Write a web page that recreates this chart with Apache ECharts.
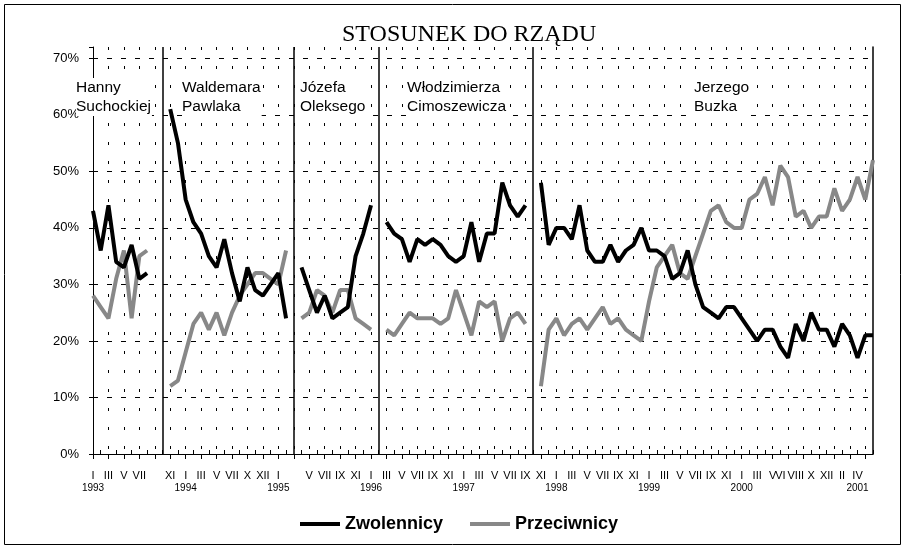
<!DOCTYPE html>
<html>
<head>
<meta charset="utf-8">
<title>Stosunek do rządu</title>
<script src="https://cdn.jsdelivr.net/npm/echarts@6/dist/echarts.min.js"></script>
<style>
  html, body { margin: 0; padding: 0; background: #fff; }
  #chart { width: 905px; height: 549px; }
</style>
</head>
<body>
<div id="chart"></div>
<script>
// miesiące od I 1993 do VI 2001 (indeks 0 = I 1993)
var monthCount = 102;

// podpisy osi X: indeks miesiąca -> numer rzymski / rok
var monthLabels = {
    0: 'I', 2: 'III', 4: 'V', 6: 'VII', 10: 'XI',
    12: 'I', 14: 'III', 16: 'V', 18: 'VII', 20: 'X', 22: 'XII',
    24: 'I', 28: 'V', 30: 'VII', 32: 'IX', 34: 'XI',
    36: 'I', 38: 'III', 40: 'V', 42: 'VII', 44: 'IX', 46: 'XI',
    48: 'I', 50: 'III', 52: 'V', 54: 'VII', 56: 'IX', 58: 'XI',
    60: 'I', 62: 'III', 64: 'V', 66: 'VII', 68: 'IX', 70: 'XI',
    72: 'I', 74: 'III', 76: 'V', 78: 'VII', 80: 'IX', 82: 'XI',
    84: 'I', 86: 'III', 88: 'V', 89: 'VI', 91: 'VIII', 93: 'X', 95: 'XII',
    97: 'II', 99: 'IV'
};
var yearLabels = {0: '1993', 12: '1994', 24: '1995', 36: '1996', 48: '1997', 60: '1998', 72: '1999', 84: '2000', 99: '2001'};

// granice między rządami (indeksy miesięcy)
var cabinetBreaks = [9, 26, 37, 57];

// podpisy rządów
var cabinetNames = ['Hanny\nSuchockiej', 'Waldemara\nPawlaka', 'Józefa\nOleksego', 'Włodzimierza\nCimoszewicza', 'Jerzego\nBuzka'];

// rząd Hanny Suchockiej (od I 1993)
var suchockaStart = 0;
var suchockaZw = [43, 36, 44, 34, 33, 37, 31, 32];
var suchockaPr = [28, 26, 24, 31, 36, 24, 35, 36];

// rząd Waldemara Pawlaka (od XI 1993)
var pawlakStart = 10;
var pawlakZw = [61, 55, 45, 41, 39, 35, 33, 38, 32, 27, 33, 29, 28, 30, 32, 24];
var pawlakPr = [12, 13, 18, 23, 25, 22, 25, 21, 25, 28, 30, 32, 32, 31, 30, 36];

// rząd Józefa Oleksego (od IV 1995)
var oleksyStart = 27;
var oleksyZw = [33, 29, 25, 28, 24, 25, 26, 35, 39, 44];
var oleksyPr = [24, 25, 29, 28, 25, 29, 29, 24, 23, 22];

// rząd Włodzimierza Cimoszewicza (od III 1996)
var cimoszewiczStart = 38;
var cimoszewiczZw = [41, 39, 38, 34, 38, 37, 38, 37, 35, 34, 35, 41, 34, 39, 39, 48, 44, 42, 44];
var cimoszewiczPr = [22, 21, 23, 25, 24, 24, 24, 23, 24, 29, 25, 21, 27, 26, 27, 20, 24, 25, 23];

// rząd Jerzego Buzka (od XI 1997)
var buzekStart = 58;
var buzekZw = [48, 37, 40, 40, 38, 44, 36, 34, 34, 37, 34, 36, 37, 40, 36, 36, 35, 31, 32, 36,
    30, 26, 25, 24, 26, 26, 24, 22, 20, 22, 22, 19, 17, 23, 20, 25, 22, 22, 19, 23, 21, 17, 21, 21];
var buzekPr = [12, 22, 24, 21, 23, 24, 22, 24, 26, 23, 24, 22, 21, 20, 27, 33, 35, 37, 32, 31,
    35, 39, 43, 44, 41, 40, 40, 45, 46, 49, 44, 51, 49, 42, 43, 40, 42, 42, 47, 43, 45, 49, 45, 52];

var categories = [];
var zwolennicy = [];
var przeciwnicy = [];
for (var i = 0; i < monthCount; i++) {
    categories.push(String(i));
    zwolennicy.push(null);
    przeciwnicy.push(null);
}
function put(target, start, values) {
    for (var k = 0; k < values.length; k++) target[start + k] = values[k];
}
put(zwolennicy, suchockaStart, suchockaZw);
put(przeciwnicy, suchockaStart, suchockaPr);
put(zwolennicy, pawlakStart, pawlakZw);
put(przeciwnicy, pawlakStart, pawlakPr);
put(zwolennicy, oleksyStart, oleksyZw);
put(przeciwnicy, oleksyStart, oleksyPr);
put(zwolennicy, cimoszewiczStart, cimoszewiczZw);
put(przeciwnicy, cimoszewiczStart, cimoszewiczPr);
put(zwolennicy, buzekStart, buzekZw);
put(przeciwnicy, buzekStart, buzekPr);

var sans = '"Liberation Sans", Arial, sans-serif';

// tytuł główny + podpisy rządów (białe tło zakrywa siatkę)
var nameLeft = [76, 182, 300, 407, 694];
var titles = [{
    text: 'STOSUNEK DO RZĄDU',
    left: 337,
    top: 18,
    textStyle: {
        fontFamily: '"Liberation Serif", "Times New Roman", serif',
        fontSize: 24,
        fontWeight: 'normal',
        color: '#000'
    }
}];
cabinetNames.forEach(function (name, k) {
    titles.push({
        text: name,
        left: nameLeft[k],
        top: 78,
        padding: [0, 1, 0, 0],
        backgroundColor: '#fff',
        textStyle: {fontFamily: sans, fontSize: 15.5, fontWeight: 'normal', lineHeight: 19, color: '#000'}
    });
});

var chart = echarts.init(document.getElementById('chart'));

var option = {
    backgroundColor: '#fff',
    animation: false,
    title: titles,
    legend: {
        data: ['Zwolennicy', 'Przeciwnicy'],
        left: 295,
        top: 510,
        icon: 'rect',
        itemWidth: 40,
        itemHeight: 4,
        itemGap: 27,
        textStyle: {fontFamily: sans, fontSize: 18, fontWeight: 'bold', color: '#000'}
    },
    grid: {left: 93, right: 32, top: 47, bottom: 95, containLabel: false},
    xAxis: [{
        type: 'category',
        data: categories,
        boundaryGap: false,
        axisLine: {lineStyle: {color: '#000', width: 1}},
        axisTick: {
            interval: function (idx) { return idx % 2 === 0; },
            length: 5,
            lineStyle: {color: '#000'}
        },
        axisLabel: {
            interval: 0,
            margin: 16,
            formatter: function (value, idx) {
                var m = monthLabels[idx] || '';
                var y = yearLabels[idx];
                var s = m ? '{m|' + m + '}' : '';
                if (y) s += '\n{y|' + y + '}';
                return s;
            },
            rich: {
                m: {fontFamily: sans, fontSize: 11, lineHeight: 12, color: '#000'},
                y: {fontFamily: sans, fontSize: 10, lineHeight: 12, color: '#000'}
            }
        },
        splitLine: {
            show: true,
            interval: function (idx) { return idx > 0 && idx % 2 === 0; },
            lineStyle: {color: '#000', width: 1, type: [3, 16]}
        }
    }, {
        type: 'category',
        data: categories,
        boundaryGap: false,
        position: 'bottom',
        axisLine: {show: false},
        axisLabel: {show: false},
        axisTick: {
            inside: true,
            interval: function (idx) { return idx % 2 === 1; },
            length: 4,
            lineStyle: {color: '#000'}
        },
        splitLine: {show: false}
    }],
    yAxis: [{
        type: 'value',
        min: 0,
        max: 72,
        interval: 10,
        axisLine: {show: true, lineStyle: {color: '#000', width: 1}},
        axisTick: {show: true, length: 4, lineStyle: {color: '#000'}},
        axisLabel: {
            margin: 14,
            fontFamily: sans,
            fontSize: 13,
            color: '#000',
            formatter: function (v) { return v > 70 ? '' : v + '%'; }
        },
        splitLine: {
            show: true,
            lineStyle: {
                color: ['rgba(0,0,0,0)', '#000', '#000', '#000', '#000', '#000', '#000', '#000', 'rgba(0,0,0,0)'],
                width: 1,
                type: [5, 9]
            }
        }
    }, {
        type: 'value',
        position: 'right',
        min: 0,
        max: 72,
        interval: 10,
        axisLine: {show: true, lineStyle: {color: '#000', width: 1.5}},
        axisTick: {show: false},
        axisLabel: {show: false},
        splitLine: {show: false}
    }],
    series: [{
        name: 'Zwolennicy',
        type: 'line',
        data: zwolennicy,
        showSymbol: false,
        symbol: 'none',
        connectNulls: false,
        color: '#000',
        lineStyle: {color: '#000', width: 4},
        z: 3,
        markLine: {
            silent: true,
            symbol: ['none', 'none'],
            label: {show: false},
            lineStyle: {color: '#000', width: 1.5, type: 'solid'},
            data: cabinetBreaks.map(function (b) { return {xAxis: b}; })
        }
    }, {
        name: 'Przeciwnicy',
        type: 'line',
        data: przeciwnicy,
        showSymbol: false,
        symbol: 'none',
        connectNulls: false,
        color: '#888',
        lineStyle: {color: '#888', width: 4},
        z: 2
    }],
    graphic: [
        {type: 'rect', shape: {x: 4.5, y: 4.5, width: 896, height: 540}, style: {fill: 'none', stroke: '#000', lineWidth: 1}, silent: true}
    ]
};

chart.setOption(option);
</script>
</body>
</html>
